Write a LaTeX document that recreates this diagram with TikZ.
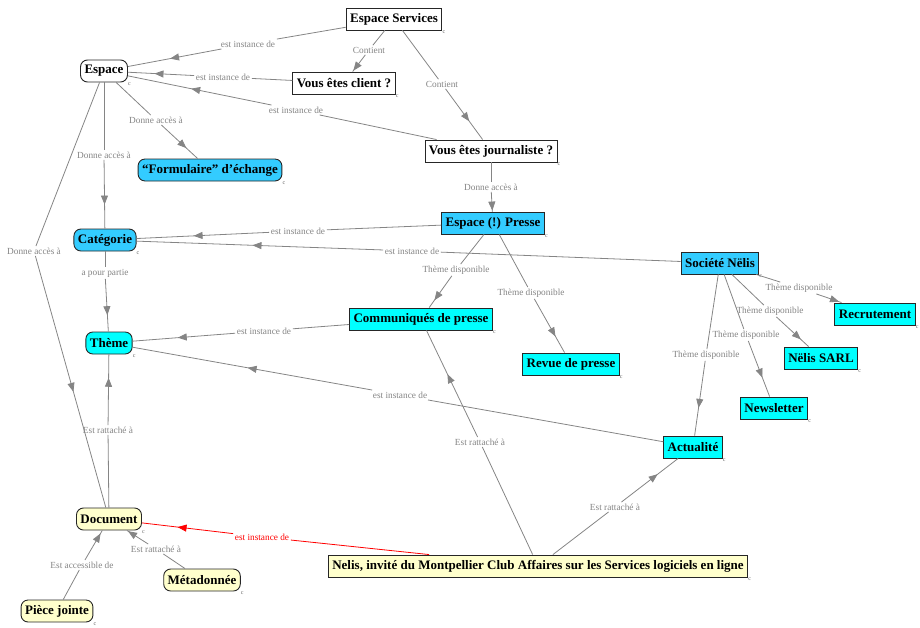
\documentclass[tikz,border=0pt]{standalone}
\usepackage{fontspec}
\setmainfont{Liberation Serif}
\usetikzlibrary{arrows.meta}
\usetikzlibrary{decorations.markings}
\definecolor{bleu}{HTML}{33CCFF}
\definecolor{turquoise}{HTML}{00FFFF}
\definecolor{jaune}{HTML}{FFFFCC}
\definecolor{lien}{HTML}{858585}
\newcommand{\conceptfont}{\fontsize{13}{15}\selectfont\bfseries}
\newcommand{\lienfont}{\fontsize{9.3}{10}\selectfont}

\begin{document}
\begin{tikzpicture}[x=1pt,y=-1pt,
    cmark/.style={draw=none,fill=none,font=\fontsize{6}{6}\selectfont,text=black!60,inner sep=0pt,anchor=north west},
    box/.style={rectangle,draw=black!85,line width=0.9pt,font=\conceptfont,inner xsep=4pt,inner ysep=0pt,minimum height=22pt,label={[cmark]south east:c}},
    rbox/.style={box,rounded corners=7pt},
    lbl/.style={font=\lienfont,text=lien,fill=white,inner sep=1.5pt},
    mid/.style={postaction={decorate,decoration={markings,mark=at position #1 with {\arrow{Triangle[length=9pt,width=7pt]}}}}}]
                \useasboundingbox (0,0) rectangle (920,627);

                \node[box,fill=white] (es) at (394,19) {Espace Services};
                \node[rbox,fill=white] (esp) at (104,71) {Espace};
                \node[box,fill=white] (cli) at (344,83) {Vous êtes client ?};
                \node[box,fill=white] (jou) at (491,151) {Vous êtes journaliste ?};
                \node[rbox,fill=bleu] (form) at (210,170) {“Formulaire” d’échange};
                \node[rbox,fill=bleu] (cat) at (105,240) {Catégorie};
                \node[box,fill=bleu] (pre) at (493,223) {Espace (!) Presse};
                \node[box,fill=bleu] (soc) at (720,263) {Société Nëlis};
                \node[box,fill=turquoise] (rec) at (875,314) {Recrutement};
                \node[box,fill=turquoise] (com) at (421,319) {Communiqués de presse};
                \node[rbox,fill=turquoise] (the) at (109,343) {Thème};
                \node[box,fill=turquoise] (rev) at (571,364) {Revue de presse};
                \node[box,fill=turquoise] (sarl) at (821,358) {Nëlis SARL};
                \node[box,fill=turquoise] (news) at (774,408) {Newsletter};
                \node[box,fill=turquoise] (act) at (693,447) {Actualité};
                \node[rbox,fill=jaune] (doc) at (109,519) {Document};
                \node[rbox,fill=jaune] (meta) at (202,580) {Métadonnée};
                \node[rbox,fill=jaune] (pj) at (57,611) {Pièce jointe};
                \node[box,fill=jaune] (nel) at (538,566) {Nelis, invité du Montpellier Club Affaires sur les Services logiciels en ligne};

                \begin{scope}[every node/.style={lbl}]
                    \node (l1) at (248,44) {est instance de};
                    \node (l2) at (369,50) {Contient};
                    \node (l3) at (442,84) {Contient};
                    \node (l4) at (223,77) {est instance de};
                    \node (l5) at (296,110) {est instance de};
                    \node (l6) at (156,120) {Donne accès à};
                    \node (l7) at (104,155) {Donne accès à};
                    \node (l8) at (34,251) {Donne accès à};
                    \node (l9) at (491,187) {Donne accès à};
                    \node (l10) at (298,231) {est instance de};
                    \node (l11) at (412,251) {est instance de};
                    \node (l12) at (105,273) {a pour partie};
                    \node (l13) at (456,270) {Thème disponible};
                    \node (l14) at (531,293) {Thème disponible};
                    \node (l15) at (799,288) {Thème disponible};
                    \node (l16) at (770,311) {Thème disponible};
                    \node (l17) at (746,335) {Thème disponible};
                    \node (l18) at (706,355) {Thème disponible};
                    \node (l19) at (264,331) {est instance de};
                    \node (l20) at (400,395) {est instance de};
                    \node (l21) at (480,442) {Est rattaché à};
                    \node (l22) at (615,507) {Est rattaché à};
                    \node[text=red] (l23) at (262,537) {est instance de};
                    \node (l24) at (108,430) {Est rattaché à};
                    \node (l25) at (156,549) {Est rattaché à};
                    \node (l26) at (82,565) {Est accessible de};
                \end{scope}

                \begin{scope}[every edge/.style={draw=lien,line width=0.8pt}]
                    \path (es) edge (l1) (l1) edge[mid=0.55] (esp);
                    \path (es) edge (l2) (l2) edge[mid=0.95] (cli);
                    \path (es) edge (l3) (l3) edge[mid=0.64] (jou);
                    \path (cli) edge (l4) (l4) edge[mid=0.6] (esp);
                    \path (jou) edge (l5) (l5) edge[mid=0.56] (esp);
                    \path (esp) edge (l6) (l6) edge[mid=0.69] (form);
                    \path (esp) edge (l7) (l7) edge[mid=0.65] (cat);
                    \path (esp) edge (l8) (l8) edge[mid=0.54] (doc);
                    \path (jou) edge (l9) (l9) edge[mid=0.95] (pre);
                    \path (pre) edge (l10) (l10) edge[mid=0.57] (cat);
                    \path (soc) edge (l11) (l11) edge[mid=0.53] (cat);
                    \path (cat) edge (l12) (l12) edge[mid=0.69] (the);
                    \path (pre) edge (l13) (l13) edge[mid=0.77] (com);
                    \path (pre) edge (l14) (l14) edge[mid=0.7] (rev);
                    \path (soc) edge (l15) (l15) edge[mid=0.9] (rec);
                    \path (soc) edge (l16) (l16) edge[mid=0.76] (sarl);
                    \path (soc) edge (l17) (l17) edge[mid=0.66] (news);
                    \path (soc) edge (l18) (l18) edge[mid=0.63] (act);
                    \path (com) edge (l19) (l19) edge[mid=0.56] (the);
                    \path (act) edge (l20) (l20) edge[mid=0.52] (the);
                    \path (nel) edge (l21) (l21) edge[mid=0.59] (com);
                    \path (nel) edge (l22) (l22) edge[mid=0.64] (act);
                    \path (nel) edge[draw=red] (l23) (l23) edge[draw=red,mid=0.61] (doc);
                    \path (doc) edge (l24) (l24) edge[mid=0.67] (the);
                    \path (meta) edge (l25) (l25) edge[mid=0.95] (doc);
                    \path (pj) edge (l26) (l26) edge[mid=0.9] (doc);
                \end{scope}
            \end{tikzpicture}
\end{document}
